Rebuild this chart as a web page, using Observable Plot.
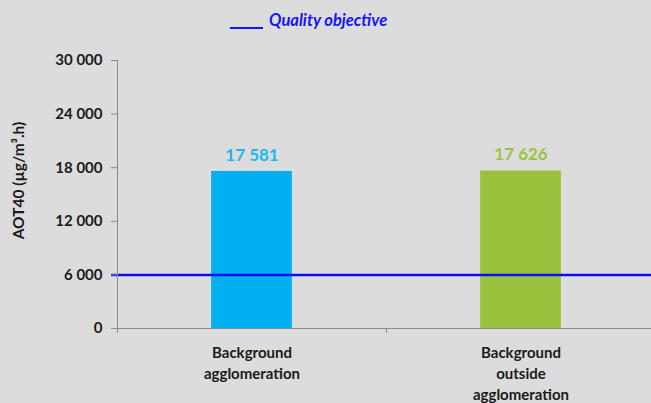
<!DOCTYPE html>
<html>
<head>
<meta charset="utf-8">
<script src="https://cdn.jsdelivr.net/npm/d3@7"></script>
<script src="https://cdn.jsdelivr.net/npm/@observablehq/plot@0.6"></script>
<style>
  html, body { margin: 0; padding: 0; background: #dcdcdc; width: 651px; height: 403px; overflow: hidden; }
  #legend { position: relative; height: 40px; font-family: Lato, "Open Sans", sans-serif; }
  #legend .swatch { position: absolute; left: 230px; top: 27px; width: 33px; height: 0; border-bottom: 2px solid #1414ff; }
  #legend .label { position: absolute; left: 269px; top: 10px; font-size: 16.5px; font-weight: bold; font-style: italic; color: #1414ff; white-space: pre; }
  #chart svg { display: block; background: #dcdcdc; }
</style>
</head>
<body>
<div id="legend"><span class="swatch"></span><span class="label">Quality objective</span></div>
<div id="chart"></div>
<script>
const categories = ["Background\nagglomeration", "Background\noutside\nagglomeration"];
const values = [17581, 17626];
const barColors = ["#00b0f0", "#9bc23c"];
const labelColors = ["#1cb6f0", "#9bc23c"];
const yTicks = [0, 6000, 12000, 18000, 24000, 30000];
const objective = [6000];
const yLabel = "AOT40 (µg/m³.h)";

const fmt = v => d3.format(",")(v).replace(/,/g, " ");
const rows = categories.map((c, i) => ({i, label: c, value: values[i], fill: barColors[i], textFill: labelColors[i]}));

const axisGray = "#8a8a8a";
const chart = Plot.plot({
  width: 651,
  height: 363,
  marginTop: 20,
  marginBottom: 75,
  marginLeft: 117,
  marginRight: 0,
  style: {background: "#dcdcdc", fontFamily: "Lato, 'Open Sans', sans-serif", color: "#1a1a1a"},
  x: {type: "linear", domain: [0, categories.length], range: [117, 655], axis: null},
  y: {domain: [0, 30000], axis: null},
  marks: [
    Plot.rectY(rows, {x1: d => d.i + 0.35, x2: d => d.i + 0.65, y: "value", fill: d => d.fill}),
    Plot.ruleY(objective, {stroke: "#0c0cf5", strokeWidth: 2.5, insetLeft: -6}),
    Plot.ruleX([0], {stroke: axisGray, strokeWidth: 1}),
    Plot.ruleY([0], {stroke: axisGray, strokeWidth: 1}),
    Plot.axisY({ticks: yTicks, tickSize: 6, tickPadding: 9, tickFormat: fmt, fontSize: 15, fontWeight: "bold", stroke: axisGray, label: null, color: "#1a1a1a"}),
    Plot.axisX({ticks: d3.range(categories.length + 1), tickSize: 5, tickFormat: () => "", stroke: axisGray, label: null}),
    Plot.text(rows, {x: d => d.i + 0.5, y: "value", text: d => fmt(d.value), fill: d => d.textFill, dy: -16, fontSize: 17, fontWeight: "bold"}),
    Plot.text(rows, {x: d => d.i + 0.5, y: 0, text: "label", lineAnchor: "top", dy: 14, lineHeight: 1.42, fontSize: 15, fontWeight: "bold", fill: "#1a1a1a"}),
    Plot.text([yLabel], {frameAnchor: "left", textAnchor: "middle", rotate: -90, dx: -98, dy: -14, fontSize: 15.5, fontWeight: "bold", fill: "#1a1a1a"})
  ]
});
document.getElementById("chart").appendChild(chart);
</script>
</body>
</html>
